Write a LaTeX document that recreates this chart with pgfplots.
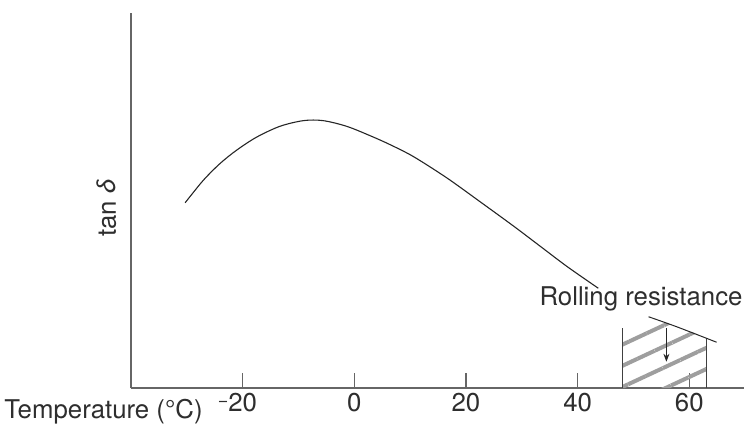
\documentclass[border=0pt]{standalone}
\usepackage{pgfplots}
\pgfplotsset{compat=1.18}
\usepackage{fontspec}
\setmainfont{TeX Gyre Heros}
\usetikzlibrary{patterns.meta,arrows.meta}
\begin{document}
\begin{tikzpicture}
\begin{axis}[
  at={(0,0)}, anchor=south west,
  scale only axis, width=306.5pt, height=187.5pt,
  xmin=-40, xmax=69.8, ymin=0, ymax=100,
  axis x line=bottom, axis y line=left,
  axis line style={-, black!60, line width=0.6pt},
  xtick={-20,0,20,40,60},
  xticklabels={\llap{\raisebox{0.2em}{\small −}}20,0,20,40,60},
  ytick=\empty,
  tick align=inside, major tick length=7.5pt,
  tick style={black!60, line width=0.6pt},
  /pgf/number format/assume math mode=true,
  ticklabel style={font=\fontsize{12.9}{15}\selectfont, text=black!82},
  xticklabel style={yshift=1pt},
  clip=false,
]
% hatched rolling-resistance region
\addplot[draw=none, pattern={Lines[angle=25,distance=9.6pt,line width=2pt]}, pattern color=black!38]
  coordinates {(48.0,0) (48.0,16.0) (52.7,19.0) (55.3,17.7) (57.8,16.3) (60.5,14.9) (63.0,13.4) (63.0,0)} -- cycle;
\addplot[black!75, line width=0.5pt] coordinates {(48.0,0) (48.0,16.0)};
\addplot[black!75, line width=0.5pt] coordinates {(63.0,0) (63.0,13.3)};
\addplot[black!85, line width=0.5pt, smooth] coordinates {(52.7,19.0) (57.8,16.3) (64.9,12.2)};
\addplot[black!85, line width=0.5pt, -{Stealth[length=4pt,width=3pt]}] coordinates {(55.9,15.9) (55.9,7.0)};
% tan delta curve
\addplot[black!85, line width=0.55pt, smooth, tension=0.5] coordinates {
(-30.3,49.4) (-27.1,55.3) (-24.1,59.8) (-21.1,63.4) (-17.5,66.9) (-13.3,69.8)
(-9.1,71.3) (-5.6,71.3) (-1.4,69.8) (2.8,67.3) (6.4,64.9) (10.6,61.7)
(16.6,56.0) (22.5,49.7) (28.5,43.2) (33.3,37.8) (38.1,32.4) (43.7,26.6)};
\node[anchor=base east, font=\fontsize{12.9}{15}\selectfont, text=black!82, inner sep=0pt] at (axis cs:69.6,21.9) {Rolling resistance};
\node[anchor=base east, font=\fontsize{12.9}{15}\selectfont, text=black!82, inner sep=0pt] at ([xshift=36pt,yshift=-15pt]rel axis cs:0,0) {Temperature (°C)};
\node[anchor=base, rotate=90, font=\fontsize{12.9}{15}\selectfont, text=black!82, inner sep=0pt] at ([xshift=-7.5pt]rel axis cs:0,0.48) {tan \textit{δ}};
\end{axis}
\pgfresetboundingbox
\path[use as bounding box] (-65.5pt,-17.5pt) rectangle (306.5pt,194pt);
\end{tikzpicture}
\end{document}
